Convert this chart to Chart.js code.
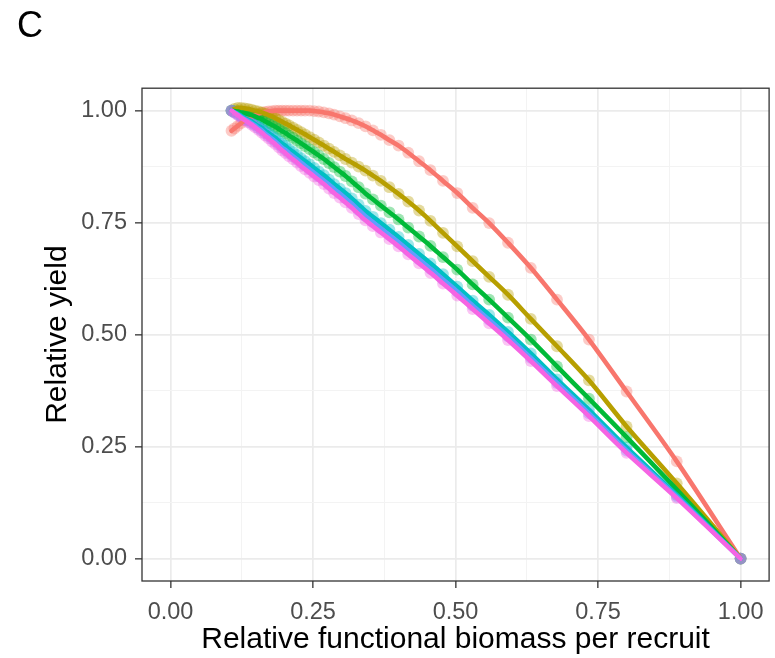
<!DOCTYPE html>
<html>
<head>
<meta charset="utf-8">
<title>Relative yield vs relative functional biomass per recruit</title>
<script src="https://cdn.jsdelivr.net/npm/chart.js@4.4.1/dist/chart.umd.min.js"></script>
<style>
  html, body { margin: 0; padding: 0; background: #fff; }
  canvas { display: block; }
</style>
</head>
<body>
<canvas id="yield-chart" width="775" height="658"></canvas>
<script>
(function () {
  "use strict";

  // ── Data ────────────────────────────────────────

  var biomass = [0.107, 0.112, 0.118, 0.124, 0.130, 0.136, 0.142, 0.148, 0.154, 0.160,
    0.166, 0.172, 0.178, 0.184, 0.190, 0.196, 0.202, 0.208, 0.215, 0.222,
    0.229, 0.236, 0.244, 0.252, 0.260, 0.269, 0.278, 0.287, 0.297, 0.307,
    0.318, 0.330, 0.342, 0.355, 0.369, 0.384, 0.400, 0.417, 0.436, 0.456,
    0.478, 0.503, 0.530, 0.559, 0.592, 0.632, 0.678, 0.734, 0.800, 0.888, 1.000];

  var yield1 = [0.955, 0.960, 0.966, 0.972, 0.978, 0.983, 0.987, 0.990, 0.993, 0.995,
    0.997, 0.998, 0.999, 1.000, 1.000, 1.000, 1.000, 1.000, 1.000, 1.000,
    1.000, 1.000, 1.000, 0.999, 0.998, 0.996, 0.994, 0.991, 0.987, 0.983,
    0.978, 0.972, 0.965, 0.956, 0.946, 0.934, 0.922, 0.906, 0.887, 0.867,
    0.843, 0.816, 0.783, 0.749, 0.705, 0.649, 0.578, 0.489, 0.373, 0.217, 0.000];

  var yield2 = [1.000, 1.004, 1.006, 1.006, 1.005, 1.004, 1.002, 1.000, 0.998, 0.996,
    0.993, 0.990, 0.987, 0.983, 0.979, 0.975, 0.971, 0.967, 0.962, 0.957,
    0.952, 0.947, 0.941, 0.935, 0.929, 0.922, 0.915, 0.908, 0.900, 0.892,
    0.884, 0.875, 0.866, 0.855, 0.843, 0.829, 0.814, 0.797, 0.777, 0.754,
    0.727, 0.697, 0.664, 0.629, 0.589, 0.535, 0.474, 0.398, 0.295, 0.168, 0.000];

  var yield3 = [1.000, 0.999, 0.998, 0.996, 0.994, 0.992, 0.990, 0.987, 0.984, 0.981,
    0.976, 0.972, 0.968, 0.964, 0.959, 0.954, 0.950, 0.944, 0.939, 0.933,
    0.927, 0.921, 0.914, 0.907, 0.900, 0.892, 0.883, 0.874, 0.864, 0.854,
    0.842, 0.829, 0.815, 0.802, 0.788, 0.773, 0.757, 0.739, 0.719, 0.698,
    0.673, 0.645, 0.612, 0.578, 0.538, 0.489, 0.429, 0.357, 0.271, 0.154, 0.000];

  var yield4 = [1.000, 0.996, 0.993, 0.988, 0.984, 0.980, 0.976, 0.971, 0.966, 0.962,
    0.955, 0.950, 0.944, 0.939, 0.932, 0.926, 0.921, 0.914, 0.908, 0.901,
    0.894, 0.887, 0.880, 0.872, 0.864, 0.856, 0.846, 0.836, 0.826, 0.816,
    0.804, 0.790, 0.776, 0.763, 0.749, 0.734, 0.718, 0.700, 0.680, 0.659,
    0.635, 0.607, 0.576, 0.544, 0.506, 0.458, 0.400, 0.332, 0.248, 0.142, 0.000];

  var yield5 = [1.000, 0.996, 0.991, 0.986, 0.981, 0.977, 0.972, 0.967, 0.961, 0.956,
    0.949, 0.943, 0.937, 0.931, 0.924, 0.917, 0.912, 0.905, 0.898, 0.891,
    0.884, 0.877, 0.869, 0.861, 0.853, 0.844, 0.835, 0.825, 0.815, 0.804,
    0.792, 0.778, 0.764, 0.751, 0.737, 0.722, 0.706, 0.688, 0.668, 0.647,
    0.623, 0.596, 0.565, 0.533, 0.496, 0.448, 0.392, 0.324, 0.241, 0.138, 0.000];

  var yield6 = [1.000, 0.995, 0.990, 0.984, 0.979, 0.974, 0.969, 0.963, 0.957, 0.951,
    0.944, 0.938, 0.931, 0.925, 0.918, 0.911, 0.905, 0.898, 0.891, 0.884,
    0.876, 0.869, 0.861, 0.853, 0.845, 0.836, 0.826, 0.816, 0.806, 0.795,
    0.783, 0.769, 0.755, 0.742, 0.728, 0.713, 0.697, 0.679, 0.659, 0.638,
    0.614, 0.587, 0.557, 0.525, 0.488, 0.441, 0.385, 0.318, 0.236, 0.135, 0.000];

  var series = [yield1, yield2, yield3, yield4, yield5, yield6];
  var colors = ["#F8766D", "#B79F00", "#00BA38", "#00BFC4", "#619CFF", "#F564E3"];

  var majorTicks = [0, 0.25, 0.5, 0.75, 1];
  var gridTicks = [0, 0.125, 0.25, 0.375, 0.5, 0.625, 0.75, 0.875, 1];

  // ── Helpers ─────────────────────────────────────

  function fade(hex, a) {
    var n = parseInt(hex.slice(1), 16);
    return "rgba(" + (n >> 16) + "," + ((n >> 8) & 255) + "," + (n & 255) + "," + a + ")";
  }

  function isMajor(v) {
    return majorTicks.some(function (m) { return Math.abs(m - v) < 1e-9; });
  }

  function toPoints(ys) {
    return biomass.map(function (x, i) { return { x: x, y: ys[i] }; });
  }

  // ── Datasets: faint points underneath, solid lines on top ─

  var pointSets = series.map(function (ys, i) {
    return {
      data: toPoints(ys), showLine: false,
      pointRadius: 5.9, pointBorderWidth: 0,
      pointBackgroundColor: fade(colors[i], 0.38),
      order: 20 - i
    };
  });
  var lineSets = series.map(function (ys, i) {
    return {
      data: toPoints(ys), showLine: true,
      borderColor: colors[i], borderWidth: 4.6,
      borderCapStyle: "round", borderJoinStyle: "round",
      pointRadius: 0, tension: 0.3,
      order: 10 - i
    };
  });

  // ── Axes in the grey theme_bw look ───────────────

  function axis(title, titlePad) {
    return {
      type: "linear", min: -0.05, max: 1.05,
      afterBuildTicks: function (s) { s.ticks = gridTicks.map(function (v) { return { value: v }; }); },
      grid: {
        color: function (c) { return isMajor(c.tick.value) ? "#EBEBEB" : "#F3F3F3"; },
        lineWidth: function (c) { return isMajor(c.tick.value) ? 1.7 : 1; },
        tickColor: function (c) { return isMajor(c.tick.value) ? "#333333" : "rgba(0,0,0,0)"; },
        tickLength: 7, tickWidth: 1.3
      },
      border: { display: false },
      ticks: {
        autoSkip: false, maxRotation: 0, padding: 8,
        color: "#4D4D4D", font: { family: "'Liberation Sans', Arial, sans-serif", size: 23.5 },
        callback: function (v) { return isMajor(v) ? v.toFixed(2) : ""; }
      },
      title: {
        display: true, text: title, color: "#000",
        font: { family: "'Liberation Sans', Arial, sans-serif", size: 30 },
        padding: titlePad
      }
    };
  }

  var xAxis = axis("Relative functional biomass per recruit", { top: 0, bottom: 0 });
  xAxis.ticks.padding = 10;
  xAxis.afterFit = function (s) { s.height = 77; };

  var yAxis = axis("Relative yield", { top: 23, bottom: 0 });
  yAxis.afterFit = function (s) { s.width = 125; };

  var panelBorder = {
    id: "panelBorder",
    afterDatasetsDraw: function (chart) {
      var a = chart.chartArea, ctx = chart.ctx;
      ctx.save();
      ctx.strokeStyle = "#333333";
      ctx.lineWidth = 1.3;
      ctx.strokeRect(a.left, a.top, a.right - a.left, a.bottom - a.top);
      ctx.restore();
    }
  };

  new Chart(document.getElementById("yield-chart"), {
    type: "scatter",
    data: { datasets: pointSets.concat(lineSets) },
    options: {
      responsive: false, animation: false,
      layout: { padding: { left: 17, right: 3, top: 0, bottom: 0 } },
      plugins: {
        legend: { display: false },
        tooltip: { enabled: false },
        title: {
          display: true, text: "C", align: "start", color: "#000",
          font: { family: "'Liberation Sans', Arial, sans-serif", size: 36, weight: "normal" },
          padding: { top: 5, bottom: 40 }
        }
      },
      scales: { x: xAxis, y: yAxis }
    },
    plugins: [panelBorder]
  });
})();
</script>
</body>
</html>
